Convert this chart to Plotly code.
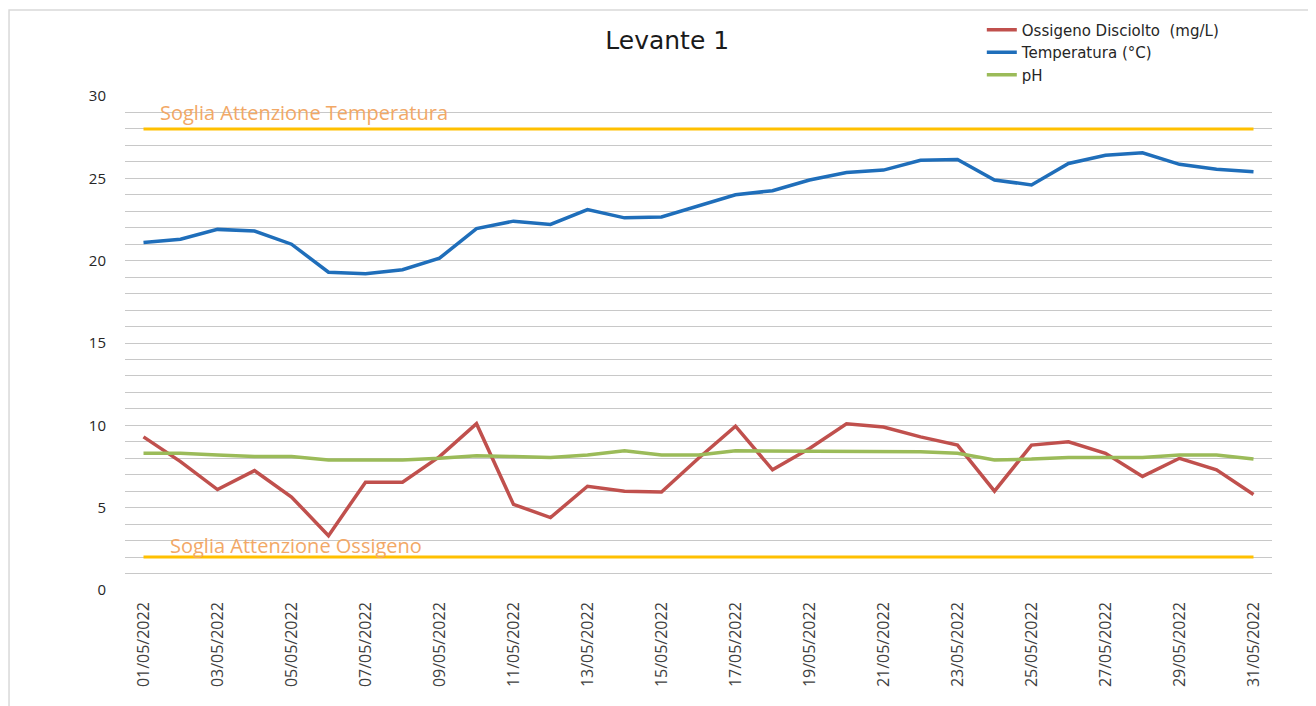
import plotly.graph_objects as go

dates = [f"2022-05-{d:02d}" for d in range(1, 32)]

ossigeno = [9.3, 7.8, 6.1, 7.25, 5.65, 3.3, 6.55, 6.55, 8.1, 10.1, 5.2, 4.4, 6.3, 6.0, 5.95,
            8.0, 9.95, 7.3, 8.6, 10.1, 9.9, 9.3, 8.8, 6.0, 8.8, 9.0, 8.3, 6.9, 8.0, 7.3, 5.8]
temperatura = [21.1, 21.3, 21.9, 21.8, 21.0, 19.3, 19.2, 19.45, 20.15, 21.95, 22.4, 22.2, 23.1,
               22.6, 22.65, 23.3, 24.0, 24.25, 24.9, 25.35, 25.5, 26.1, 26.15, 24.9, 24.6, 25.9,
               26.4, 26.55, 25.85, 25.55, 25.4]
ph = [8.3, 8.3, 8.2, 8.1, 8.1, 7.9, 7.9, 7.9, 8.0, 8.15, 8.1, 8.05, 8.2, 8.45, 8.2, 8.2, 8.45,
      8.45, 8.4, 8.45, 8.45, 8.4, 8.3, 7.9, 7.95, 8.05, 8.05, 8.05, 8.2, 8.2, 7.95]
soglia_temperatura = [28] * 31
soglia_ossigeno = [2] * 31

names = ["Ossigeno Disciolto  (mg/L)", "Temperatura (°C)", "pH"]
threshold_labels = ["Soglia Attenzione Temperatura", "Soglia Attenzione Ossigeno"]

RED, BLUE, GREEN, YELLOW, ORANGE_TXT = "#C0504D", "#1F6EBA", "#9BBB59", "#FFC000", "#F2A866"
FONT = "Open Sans"

fig = go.Figure()
fig.add_trace(go.Scatter(x=dates, y=soglia_temperatura, mode="lines", showlegend=False,
                         line=dict(color=YELLOW, width=3), hoverinfo="skip"))
fig.add_trace(go.Scatter(x=dates, y=soglia_ossigeno, mode="lines", showlegend=False,
                         line=dict(color=YELLOW, width=3), hoverinfo="skip"))
fig.add_trace(go.Scatter(x=dates, y=ossigeno, mode="lines", name=names[0],
                         line=dict(color=RED, width=3.5)))
fig.add_trace(go.Scatter(x=dates, y=temperatura, mode="lines", name=names[1],
                         line=dict(color=BLUE, width=3.5)))
fig.add_trace(go.Scatter(x=dates, y=ph, mode="lines", name=names[2],
                         line=dict(color=GREEN, width=3.5)))

fig.add_annotation(x=dates[0], y=29, text=threshold_labels[0], showarrow=False,
                   xanchor="left", xshift=14, font=dict(family=FONT, size=20, color=ORANGE_TXT))
fig.add_annotation(x=dates[0], y=2.7, text=threshold_labels[1], showarrow=False,
                   xanchor="left", xshift=24, font=dict(family=FONT, size=20, color=ORANGE_TXT))

fig.add_shape(type="rect", xref="paper", yref="paper", x0=-0.1011, x1=1.2, y0=-0.5, y1=1.174,
              line=dict(color="#D9D9D9", width=1.5), fillcolor="rgba(0,0,0,0)", layer="below")

fig.update_layout(
    width=1308, height=698,
    margin=dict(l=117, r=44, t=88, b=116, autoexpand=False),
    paper_bgcolor="white", plot_bgcolor="white",
    title=dict(text="Levante 1", x=0.504, xanchor="center", y=0.954, yanchor="middle",
               font=dict(family="DejaVu Sans", size=25, color="#1a1a1a")),
    legend=dict(x=0.747, y=1.167, xanchor="left", yanchor="top", bgcolor="rgba(0,0,0,0)",
                font=dict(family="DejaVu Sans", size=15, color="#262626"), tracegroupgap=0,
                itemwidth=30),
    showlegend=True,
)
fig.update_xaxes(
    type="date", range=["2022-04-30 12:00", "2022-05-31 12:00"],
    tick0="2022-05-01", dtick=2 * 86400000, tickformat="%d/%m/%Y", tickangle=-90,
    showgrid=False, showline=False, zeroline=False, ticks="", ticklabelstandoff=8,
    tickfont=dict(family=FONT, size=16, color="#404040"),
)
fig.update_yaxes(
    range=[0, 30], dtick=5, tick0=0, showgrid=True, gridcolor="#C8C8C8", gridwidth=1,
    minor=dict(dtick=1, showgrid=True, gridcolor="#C8C8C8", gridwidth=1),
    zeroline=False, showline=False, ticks="", ticklabelstandoff=18,
    tickfont=dict(family=FONT, size=15, color="#262626"),
)

fig.write_html("out.html")
